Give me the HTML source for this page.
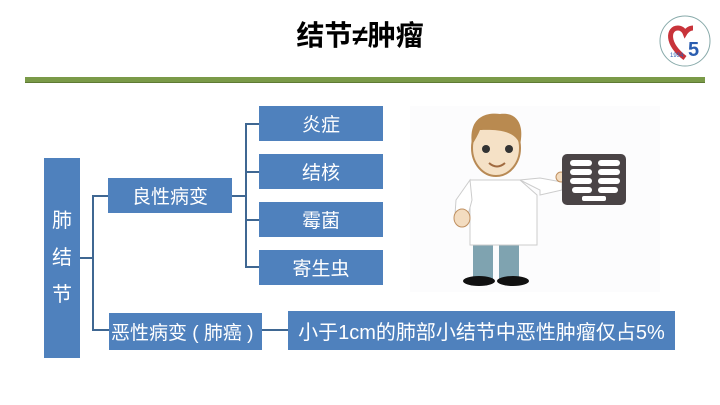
<!DOCTYPE html>
<html><head><meta charset="utf-8"><style>
body{margin:0;width:720px;height:405px;background:#fff;position:relative;overflow:hidden;font-family:"Liberation Sans","Noto Sans CJK SC",sans-serif}
.b{position:absolute;background:#4f81bd;color:#fff;display:flex;align-items:center;justify-content:center;font-size:19px}
.l{position:absolute;background:#3f6792}
</style></head><body>
<div style="position:absolute;left:0;top:14px;width:720px;text-align:center;font-size:28px;font-weight:bold;color:#000">结节≠肿瘤</div>
<svg style="position:absolute;left:658px;top:14px" width="54" height="54" viewBox="0 0 54 54">
<circle cx="27" cy="27" r="25" fill="#fff" stroke="#8aa" stroke-width="1"/>
<path d="M27 44 C8 30 10 14 20 14 C25 14 27 19 27 19 C27 19 30 14 35 14" fill="none" stroke="#c8333a" stroke-width="5"/>
<text x="30" y="42" font-size="20" font-weight="bold" fill="#2a5db0" font-family="Liberation Sans">5</text>
<text x="12" y="43" font-size="6" fill="#2a5db0">1994</text>
</svg>
<div style="position:absolute;left:25px;top:77px;width:680px;height:5px;background:#7a9a48;border-bottom:1px solid #5e7a34"></div>
<div class="b" style="left:44px;top:158px;width:36px;height:200px;flex-direction:column;line-height:37px;font-size:20px">肺<br>结<br>节</div>
<div class="l" style="left:80px;top:257px;width:13px;height:2px"></div>
<div class="l" style="left:92px;top:195px;width:2px;height:136px"></div>
<div class="l" style="left:92px;top:195px;width:16px;height:2px"></div>
<div class="l" style="left:92px;top:329px;width:17px;height:2px"></div>
<div class="b" style="left:108px;top:178px;width:124px;height:35px">良性病变</div>
<div class="l" style="left:232px;top:195px;width:14px;height:2px"></div>
<div class="l" style="left:245px;top:123px;width:2px;height:145px"></div>
<div class="l" style="left:245px;top:123px;width:14px;height:2px"></div>
<div class="l" style="left:245px;top:171px;width:14px;height:2px"></div>
<div class="l" style="left:245px;top:219px;width:14px;height:2px"></div>
<div class="l" style="left:245px;top:266px;width:14px;height:2px"></div>
<div class="b" style="left:259px;top:106px;width:124px;height:35px">炎症</div>
<div class="b" style="left:259px;top:154px;width:124px;height:35px">结核</div>
<div class="b" style="left:259px;top:202px;width:124px;height:35px">霉菌</div>
<div class="b" style="left:259px;top:250px;width:124px;height:35px">寄生虫</div>
<div class="b" style="left:109px;top:313px;width:153px;height:37px;justify-content:flex-start;padding-left:2px;box-sizing:border-box;white-space:nowrap">恶性病变 ( 肺癌 )</div>
<div class="l" style="left:262px;top:329px;width:26px;height:2px"></div>
<div class="b" style="left:288px;top:311px;width:387px;height:39px;font-size:20px">小于1cm的肺部小结节中恶性肿瘤仅占5%</div>
<svg style="position:absolute;left:410px;top:106px" width="250" height="186" viewBox="410 106 250 186">
<rect x="410" y="106" width="250" height="186" fill="#fcfcfd"/>
<rect x="473" y="243" width="20" height="36" fill="#7fa3b0"/>
<rect x="499" y="243" width="20" height="36" fill="#7fa3b0"/>
<ellipse cx="479" cy="281" rx="16" ry="5" fill="#111"/>
<ellipse cx="513" cy="281" rx="16" ry="5" fill="#111"/>
<path d="M470 180 L520 180 L537 195 L537 245 L470 245 Z" fill="#fff" stroke="#ccc"/>
<path d="M470 180 L456 200 L455 215 L468 215 L472 200Z" fill="#fff" stroke="#ccc"/>
<path d="M520 180 L540 190 L540 195 L562 190 L562 182 L540 178Z" fill="#fff" stroke="#ccc"/>
<ellipse cx="462" cy="218" rx="8" ry="9" fill="#f3dcc0" stroke="#c09060"/>
<circle cx="561" cy="177" r="5" fill="#f3dcc0" stroke="#c09060"/>
<ellipse cx="496" cy="148" rx="24" ry="28" fill="#f5e1c6" stroke="#b88a55" stroke-width="2"/>
<path d="M472 145 C468 118 485 112 500 114 C515 112 525 122 520 145 C515 128 490 130 480 130 C478 135 475 140 472 145Z" fill="#b98a50"/>
<circle cx="486" cy="149" r="4" fill="#333"/><circle cx="509" cy="149" r="4" fill="#333"/>
<path d="M489 163 Q497 170 505 163" fill="none" stroke="#a06a40" stroke-width="2"/>
<rect x="562" y="154" width="64" height="51" rx="5" fill="#4a4446"/>
<g fill="#fff"><rect x="570" y="160" width="22" height="6" rx="3"/><rect x="598" y="160" width="22" height="6" rx="3"/>
<rect x="570" y="169" width="22" height="6" rx="3"/><rect x="598" y="169" width="22" height="6" rx="3"/>
<rect x="570" y="178" width="22" height="6" rx="3"/><rect x="598" y="178" width="22" height="6" rx="3"/>
<rect x="572" y="187" width="20" height="6" rx="3"/><rect x="598" y="187" width="20" height="6" rx="3"/>
<rect x="582" y="196" width="24" height="5" rx="2"/></g>
</svg>
</body></html>
